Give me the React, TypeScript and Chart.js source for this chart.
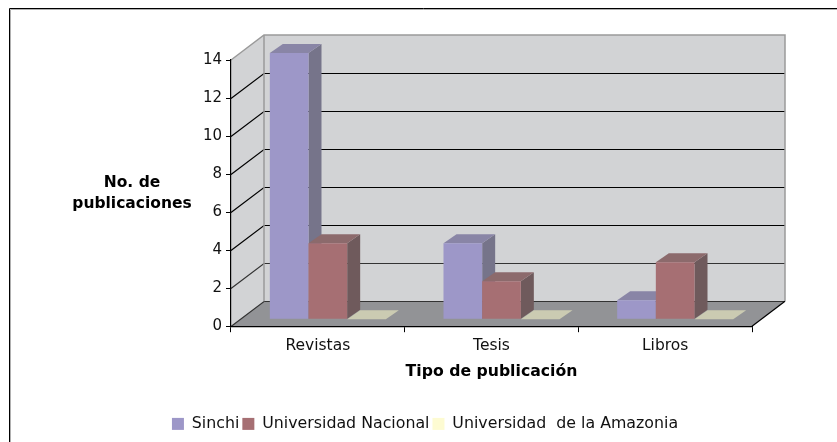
import React, { useEffect, useRef } from "react";
import { Chart, registerables } from "chart.js";

Chart.register(...registerables);

const categories = ["Revistas", "Tesis", "Libros"];
const sinchi = [14, 4, 1];
const nacional = [4, 2, 3];
const amazonia = [0, 0, 0];
const seriesNames = ["Sinchi", "Universidad Nacional", "Universidad  de la Amazonia"];
const frontColors = ["#9d97c8", "#a66f73", "#fdfbd2"];
const sideColors = ["#76748a", "#6f5a5c", "#a9a88f"];
const topColors = ["#8985a6", "#8c6a6c", "#cbcbb2"];

const FONT = "'DejaVu Sans', Verdana, sans-serif";
const WALL = "#d2d3d5";
const FLOOR = "#929396";
const EDGE = "#9a9a9a";
const DEPTH_X = 33;
const DEPTH_Y = -25;
const BAR_SHIFT_X = 10;
const BAR_SHIFT_Y = -7;
const BAR_DEPTH_X = 13;
const BAR_DEPTH_Y = -9;

function poly(ctx: CanvasRenderingContext2D, pts: number[][], fill: string) {
  ctx.beginPath();
  pts.forEach((p, i) => (i ? ctx.lineTo(p[0], p[1]) : ctx.moveTo(p[0], p[1])));
  ctx.closePath();
  ctx.fillStyle = fill;
  ctx.fill();
}

function line(ctx: CanvasRenderingContext2D, pts: number[][], color: string, w: number) {
  ctx.beginPath();
  pts.forEach((p, i) => (i ? ctx.lineTo(p[0], p[1]) : ctx.moveTo(p[0], p[1])));
  ctx.strokeStyle = color;
  ctx.lineWidth = w;
  ctx.stroke();
}

const box3d = {
  id: "box3d",
  afterLayout(chart: any) {
    const lg = chart.legend;
    const shift = 49;
    lg.left += shift;
    lg.right += shift;
    lg.top = 413;
    lg.bottom = 435;
  },
  beforeDraw(chart: any) {
    const { ctx, chartArea: a, scales } = chart;
    const { left: l, right: r, top: t, bottom: b } = a;
    const dx = DEPTH_X;
    const dy = DEPTH_Y;
    ctx.save();
    // outer frame
    line(ctx, [[10.5, 442], [10.5, 9.5], [837, 9.5]], "#b0b0b0", 1);
    line(ctx, [[9.5, 442], [9.5, 8.5], [837, 8.5]], "#000000", 1);
    // walls and floor
    poly(ctx, [[l + dx, t + dy], [r + dx, t + dy], [r + dx, b + dy], [l + dx, b + dy]], WALL);
    poly(ctx, [[l, t], [l + dx, t + dy], [l + dx, b + dy], [l, b]], WALL);
    poly(ctx, [[l, b], [r, b], [r + dx, b + dy], [l + dx, b + dy]], FLOOR);
    // grid lines from the value scale
    scales.y.ticks.forEach((tk: any) => {
      const y = Math.round(scales.y.getPixelForValue(tk.value)) + 0.5;
      if (tk.value === scales.y.max) return;
      const c = tk.value <= 2 ? "#333333" : "#000000";
      line(ctx, [[l, y], [l + dx, y + dy], [r + dx, y + dy]], c, 1.2);
    });
    line(ctx, [[l, t], [l + dx, t + dy], [r + dx, t + dy], [r + dx, b + dy]], EDGE, 1.5);
    line(ctx, [[l + dx, t + dy], [l + dx, b + dy]], EDGE, 1.5);
    line(ctx, [[r, b], [r + dx, b + dy]], "#000000", 1.2);
    // horizontal value-axis caption
    ctx.fillStyle = "#000000";
    ctx.font = `bold 15.5px ${FONT}`;
    ctx.textAlign = "center";
    ctx.textBaseline = "middle";
    ctx.fillText("No. de", 132, 183);
    ctx.fillText("publicaciones", 132, 204);
    ctx.restore();
  },
  beforeDatasetsDraw(chart: any) {
    const { ctx } = chart;
    ctx.save();
    ctx.translate(BAR_SHIFT_X, BAR_SHIFT_Y);
    chart.data.datasets.forEach((_: any, i: number) => {
      const meta = chart.getDatasetMeta(i);
      meta.data.forEach((el: any) => {
        const { x, y, base, width } = el.getProps(["x", "y", "base", "width"], true);
        const L = x - width / 2;
        const R = x + width / 2;
        const ddx = BAR_DEPTH_X;
        const ddy = BAR_DEPTH_Y;
        if (base - y > 0.5) {
          poly(ctx, [[R, y], [R + ddx, y + ddy], [R + ddx, base + ddy], [R, base]], sideColors[i]);
        }
        poly(ctx, [[L, y], [L + ddx, y + ddy], [R + ddx, y + ddy], [R, y]], topColors[i]);
        el.draw(ctx);
      });
    });
    ctx.restore();
    return false;
  },
};

export default function App() {
  const ref = useRef<HTMLCanvasElement | null>(null);
  useEffect(() => {
    const chart = new Chart(ref.current as HTMLCanvasElement, {
      type: "bar",
      plugins: [box3d as any],
      data: {
        labels: categories,
        datasets: [sinchi, nacional, amazonia].map((d, i) => ({
          label: seriesNames[i],
          data: d,
          backgroundColor: frontColors[i],
          borderWidth: 0,
          barPercentage: 1,
          categoryPercentage: 0.668,
        })),
      },
      options: {
        responsive: false,
        animation: false,
        layout: { autoPadding: false, padding: { left: 0, right: 85, top: 60, bottom: 0 } },
        plugins: {
          tooltip: { enabled: false },
          legend: {
            position: "bottom",
            labels: {
              boxWidth: 12,
              boxHeight: 12,
              padding: 3,
              color: "#111111",
              font: { family: FONT, size: 15.8 },
            },
          },
        },
        scales: {
          x: {
            afterFit: (s: any) => { s.height = 87; },
            border: { color: "#000000", width: 1.2 },
            grid: { offset: true, drawOnChartArea: false, color: "#000000", tickLength: 6 },
            ticks: { color: "#111111", padding: 4, maxRotation: 0, font: { family: FONT, size: 15.5 } },
            title: {
              display: true,
              text: "Tipo de publicación",
              color: "#000000",
              font: { family: FONT, size: 15.7, weight: "bold" },
              padding: { top: 0, bottom: 32 },
            },
          },
          y: {
            min: 0,
            max: 14,
            afterFit: (s: any) => { s.width = 231; },
            border: { color: "#000000", width: 1.2 },
            grid: { drawOnChartArea: false, color: "#000000", tickLength: 5 },
            ticks: { stepSize: 2, color: "#111111", padding: 4, font: { family: FONT, size: 15 } },
          },
        },
      } as any,
    });
    return () => chart.destroy();
  }, []);
  return (
    <div style={{ position: "absolute", left: 0, top: 0, width: 837, height: 442, background: "#ffffff" }}>
      <canvas ref={ref} width={837} height={442} style={{ display: "block" }} />
    </div>
  );
}
